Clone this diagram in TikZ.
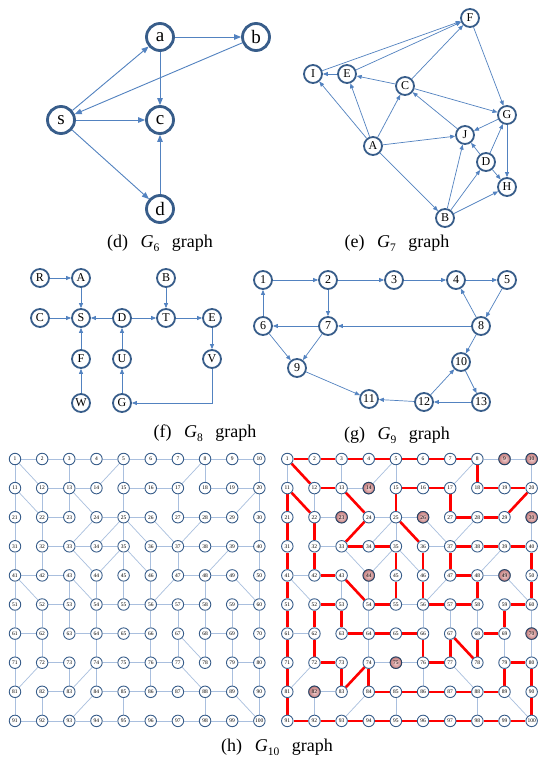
\documentclass[tikz,border=0pt]{standalone}
\usepackage{fontspec}
\setmainfont{Liberation Serif}
\usetikzlibrary{arrows.meta,backgrounds}

\definecolor{nodeblue}{HTML}{385D8A}
\definecolor{edgeblue}{HTML}{5282C0}
\definecolor{gridblue}{HTML}{A9BFDE}
\definecolor{pinkin}{HTML}{F6D6D6}
\definecolor{pinkout}{HTML}{C27C7C}

% graph label: (tag)  G_sub  graph
\newcommand\gcaption[2]{(#1)\hspace{0.7em}\textit{G}\raisebox{-0.22em}{\fontsize{11.5}{11.5}\selectfont #2}\hspace{0.7em}graph}

% undirected edges of the 10x10 grid graph
\def\gridedges{1/2,2/3,3/4,4/5,5/6,6/7,7/8,8/9,9/10,%
1/11,1/12,3/13,5/14,5/15,8/17,8/18,10/20,%
12/13,13/14,15/16,16/17,18/19,19/20,%
11/21,11/22,12/22,13/23,13/24,15/25,17/27,20/29,20/30,%
22/23,24/25,25/26,27/28,28/29,%
21/31,22/32,24/33,25/34,25/35,25/36,26/37,28/37,30/40,%
32/33,33/34,34/35,36/37,37/38,38/39,39/40,%
31/41,32/42,33/44,35/44,35/45,35/46,36/46,37/47,39/48,40/50,%
41/42,42/43,47/48,48/49,%
41/51,41/52,43/53,43/54,44/54,45/55,46/56,47/56,48/58,49/60,50/60,%
52/53,54/55,55/56,56/57,57/58,59/60,%
51/61,52/62,53/63,54/64,56/66,57/67,58/68,59/69,60/70,%
61/62,63/64,64/65,65/66,68/69,%
61/71,62/72,64/74,66/76,67/77,67/78,68/78,69/79,70/80,%
72/73,74/75,75/76,76/77,79/80,%
71/81,72/81,73/83,74/83,74/84,76/86,77/88,79/89,80/90,%
82/83,84/85,85/86,86/87,87/88,88/89,%
81/91,82/92,84/93,85/95,88/98,89/100,90/100,%
91/92,92/93,93/94,94/95,95/96,96/97,97/98,98/99,99/100}

% highlighted cycle in the right-hand grid
\def\cycleedges{1/2,2/3,3/4,4/5,5/6,6/7,7/8,8/18,18/19,19/20,20/29,29/28,28/27,27/17,%
17/16,16/15,15/25,25/36,36/46,46/56,56/57,57/58,58/48,48/47,47/37,37/38,38/39,39/40,%
40/50,50/60,60/59,59/69,69/68,68/78,78/67,67/77,77/76,76/66,66/65,65/64,64/63,63/53,%
53/52,52/62,62/72,72/73,73/83,83/74,74/84,84/85,85/86,86/87,87/88,88/89,89/79,79/80,%
80/90,90/100,100/99,99/98,98/97,97/96,96/95,95/94,94/93,93/92,92/91,91/81,81/71,71/61,%
61/51,51/41,41/31,31/21,21/11,11/22,22/32,32/42,42/43,43/54,54/55,55/45,45/35,35/34,%
34/33,33/24,24/13,13/12,12/1}

\begin{document}
\begin{tikzpicture}[x=1pt,y=-1pt,
  bignode/.style={circle,draw=nodeblue,line width=2.8pt,fill=white,minimum size=27pt,inner sep=0pt,
    font=\fontsize{19}{19}\selectfont},
  midnode/.style={circle,draw=nodeblue,line width=1.8pt,fill=white,minimum size=18pt,inner sep=0pt,
    font=\fontsize{12}{12}\selectfont},
  gridnode/.style={circle,draw=nodeblue,line width=0.9pt,fill=white,minimum size=11.5pt,inner sep=0pt,
    font=\fontsize{5.5}{5.5}\selectfont},
  pinknode/.style={gridnode,draw=nodeblue!70!black,inner color=pinkin,outer color=pinkout},
  bigarr/.style={draw=edgeblue,line width=0.9pt,-{Triangle[length=7pt,width=5.5pt]}},
  arr/.style={draw=edgeblue,line width=0.7pt,-{Triangle[length=5pt,width=4pt]}},
  gedge/.style={draw=gridblue,line width=0.7pt},
  redge/.style={draw=red,line width=2.6pt},
  capt/.style={font=\fontsize{18}{18}\selectfont}]
\useasboundingbox (0,0) rectangle (540,765);

% ---------- G6 ----------
\node[bignode] (a) at (160,37) {a};
\node[bignode] (b) at (256,37) {b};
\node[bignode] (s) at (61,120) {s};
\node[bignode] (c) at (160,120) {c};
\node[bignode] (d) at (160,209) {d};
\draw[bigarr] (s) -- (a);
\draw[bigarr] (a) -- (b);
\draw[bigarr] (a) -- (c);
\draw[bigarr] (b) -- (s);
\draw[bigarr] (s) -- (c);
\draw[bigarr] (s) -- (d);
\draw[bigarr] (d) -- (c);
\node[capt] (capd) at (160,243) {\gcaption{d}{6}};

% ---------- G7 ----------
\node[midnode] (F) at (470,18) {F};
\node[midnode] (I) at (313,74) {I};
\node[midnode] (E) at (347,74) {E};
\node[midnode] (C) at (405,86) {C};
\node[midnode] (G) at (507,115) {G};
\node[midnode] (J) at (465,135) {J};
\node[midnode] (A) at (373,146) {A};
\node[midnode] (D) at (486,162) {D};
\node[midnode] (H) at (507,187) {H};
\node[midnode] (B) at (445,218) {B};
\draw[arr] (I) -- (F);
\draw[arr] (E) -- (F);
\draw[arr] (E) -- (I);
\draw[arr] (C) -- (E);
\draw[arr] (C) -- (F);
\draw[arr] (C) -- (G);
\draw[arr] (A) -- (I);
\draw[arr] (A) -- (E);
\draw[arr] (A) -- (C);
\draw[arr] (A) -- (J);
\draw[arr] (A) -- (B);
\draw[arr] (J) -- (C);
\draw[arr] (G) -- (J);
\draw[arr] (F) -- (G);
\draw[arr] (B) -- (J);
\draw[arr] (B) -- (D);
\draw[arr] (B) -- (H);
\draw[arr] (D) -- (J);
\draw[arr] (D) -- (G);
\draw[arr] (D) -- (H);
\draw[arr] (G) -- (H);
\node[capt] (cape) at (397,243) {\gcaption{e}{7}};

% ---------- G8 ----------
\node[midnode] (R8) at (40,278) {R};
\node[midnode] (A8) at (81,278) {A};
\node[midnode] (B8) at (166,278) {B};
\node[midnode] (C8) at (40,318) {C};
\node[midnode] (S8) at (81,318) {S};
\node[midnode] (D8) at (122,318) {D};
\node[midnode] (T8) at (166,318) {T};
\node[midnode] (E8) at (212,318) {E};
\node[midnode] (F8) at (81,359) {F};
\node[midnode] (U8) at (122,359) {U};
\node[midnode] (V8) at (212,359) {V};
\node[midnode] (W8) at (81,403) {W};
\node[midnode] (G8) at (122,403) {G};
\draw[arr] (R8) -- (A8);
\draw[arr] (A8) -- (S8);
\draw[arr] (C8) -- (S8);
\draw[arr] (D8) -- (S8);
\draw[arr] (D8) -- (T8);
\draw[arr] (B8) -- (T8);
\draw[arr] (T8) -- (E8);
\draw[arr] (E8) -- (V8);
\draw[arr] (F8) -- (S8);
\draw[arr] (W8) -- (F8);
\draw[arr] (U8) -- (D8);
\draw[arr] (G8) -- (U8);
\draw[arr] (V8) |- (G8);
\node[capt] (capf) at (205,433) {\gcaption{f}{8}};

% ---------- G9 ----------
\node[midnode] (n1) at (263,280) {1};
\node[midnode] (n2) at (328,280) {2};
\node[midnode] (n3) at (394,280) {3};
\node[midnode] (n4) at (456,280) {4};
\node[midnode] (n5) at (507,280) {5};
\node[midnode] (n6) at (263,326) {6};
\node[midnode] (n7) at (328,326) {7};
\node[midnode] (n8) at (481,326) {8};
\node[midnode] (n9) at (297,368) {9};
\node[midnode] (n10) at (461,362) {10};
\node[midnode] (n11) at (369,399) {11};
\node[midnode] (n12) at (424,402) {12};
\node[midnode] (n13) at (481,402) {13};
\draw[arr] (n1) -- (n2);
\draw[arr] (n2) -- (n3);
\draw[arr] (n3) -- (n4);
\draw[arr] (n4) -- (n5);
\draw[arr] (n6) -- (n1);
\draw[arr] (n2) -- (n7);
\draw[arr] (n7) -- (n6);
\draw[arr] (n8) -- (n7);
\draw[arr] (n8) -- (n4);
\draw[arr] (n5) -- (n8);
\draw[arr] (n6) -- (n9);
\draw[arr] (n7) -- (n9);
\draw[arr] (n9) -- (n11);
\draw[arr] (n8) -- (n10);
\draw[arr] (n10) -- (n13);
\draw[arr] (n13) -- (n12);
\draw[arr] (n12) -- (n10);
\draw[arr] (n12) -- (n11);
\node[capt] (capg) at (397,435) {\gcaption{g}{9}};

% ---------- G10: two copies of the grid ----------
\foreach \n in {1,...,100} {
  \pgfmathtruncatemacro\rr{div(\n-1,10)}
  \pgfmathtruncatemacro\cc{mod(\n-1,10)}
  \node[gridnode] (L\n) at ({15+27.15*\cc},{459+29.1*\rr}) {\n};
  \node[gridnode] (R\n) at ({287.3+27.15*\cc},{459+29.1*\rr}) {\n};
}
\foreach \n in {9,10,14,23,26,30,44,49,70,75,82}
  \node[pinknode] (P\n) at (R\n) {\n};
\begin{scope}[on background layer]
  \fill[white] (0,0) rectangle (540,765);
  \foreach \a/\b in \gridedges {
    \draw[gedge] (L\a) -- (L\b);
    \draw[gedge] (R\a) -- (R\b);
  }
  \foreach \a/\b in \cycleedges
    \draw[redge] (R\a) -- (R\b);
\end{scope}
\node[capt] (caph) at (277,747) {\gcaption{h}{10}};
\end{tikzpicture}
\end{document}
